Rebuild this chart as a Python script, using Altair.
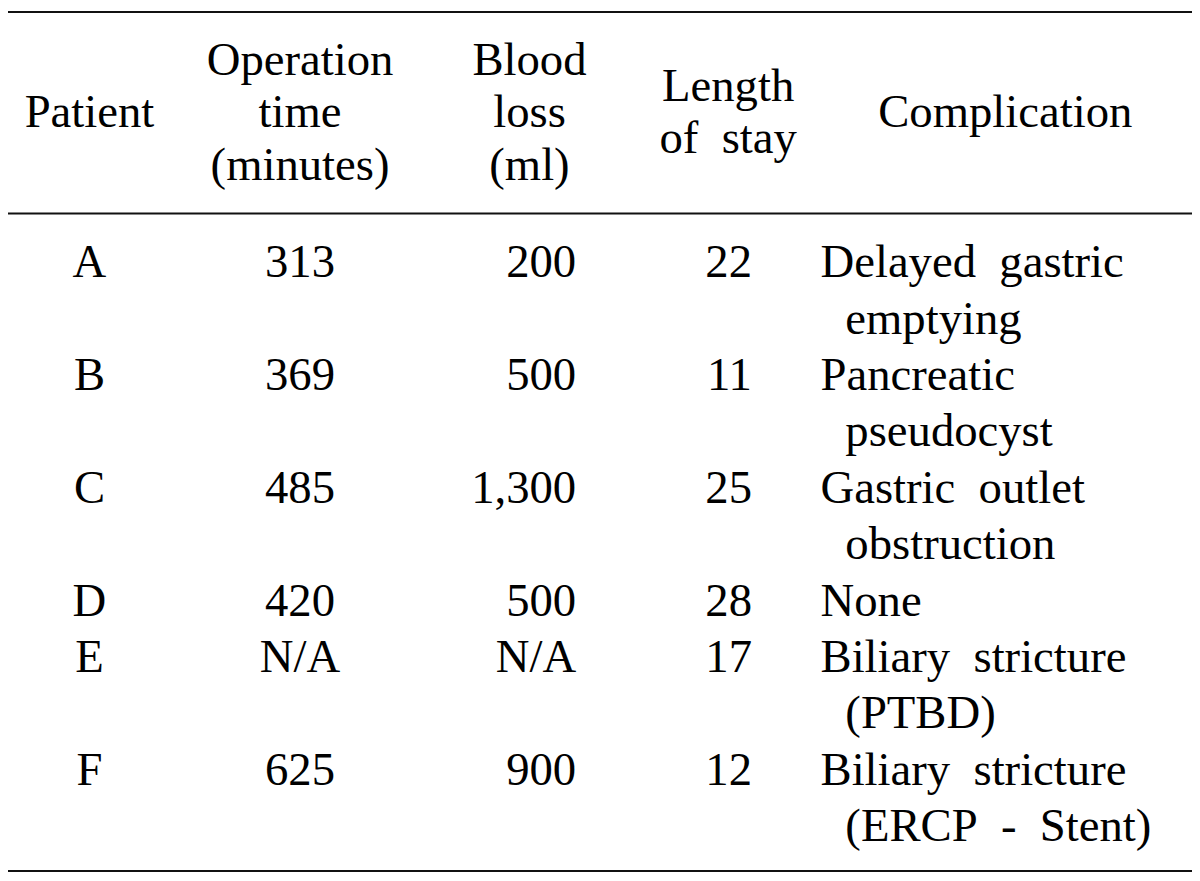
import altair as alt
import pandas as pd

# ---------------- data ----------------
patients = ["A", "B", "C", "D", "E", "F"]
operation_time = ["313", "369", "485", "420", "N/A", "625"]
blood_loss = ["200", "500", "1,300", "500", "N/A", "900"]
length_of_stay = ["22", "11", "25", "28", "17", "12"]
complication = [
    ["Delayed\u00a0\u00a0gastric", "emptying"],
    ["Pancreatic", "pseudocyst"],
    ["Gastric\u00a0\u00a0outlet", "obstruction"],
    ["None"],
    ["Biliary\u00a0\u00a0stricture", "(PTBD)"],
    ["Biliary\u00a0\u00a0stricture", "(ERCP\u00a0\u00a0-\u00a0\u00a0Stent)"],
]
header_patient = ["Patient"]
header_operation = ["Operation", "time", "(minutes)"]
header_blood = ["Blood", "loss", "(ml)"]
header_stay = ["Length", "of\u00a0\u00a0stay"]
header_complication = ["Complication"]

# ---------------- layout (not data) ----------------
W, H = 1192, 873
FONT = "Liberation Serif"
FS = 47
# slot order: patient ctr, op ctr, blood hdr ctr, blood right, stay hdr ctr,
# stay right, compl left, compl indent, compl hdr ctr
slot_px = [82, 294, 525, 572, 725, 749, 818, 843, 1004]
x_scale = alt.Scale(domain=list(range(len(slot_px))), range=slot_px)
head_y = alt.Scale(domain=[0, 2], range=[64, 170])
body_y = alt.Scale(domain=[0, 10], range=[268, 836])

# ---------------- tables ----------------
head_rows = []
for slot, lines in [(0, header_patient), (1, header_operation), (2, header_blood),
                    (4, header_stay), (8, header_complication)]:
    n = len(lines)
    for i, t in enumerate(lines):
        head_rows.append({"slot": slot, "line": 1 - (n - 1) / 2 + i, "text": t})
head_df = pd.DataFrame(head_rows)

center_rows, right_rows, left_rows = [], [], []
line = 0
for p, o, b, s, comp in zip(patients, operation_time, blood_loss, length_of_stay, complication):
    center_rows.append({"slot": 0, "line": line, "text": p})
    center_rows.append({"slot": 1, "line": line, "text": o})
    right_rows.append({"slot": 3, "line": line, "text": b})
    right_rows.append({"slot": 5, "line": line, "text": s})
    for i, t in enumerate(comp):
        left_rows.append({"slot": 6 if i == 0 else 7, "line": line + i, "text": t})
    line += len(comp)


def text_layer(df, align, yscale):
    return alt.Chart(pd.DataFrame(df)).mark_text(
        font=FONT, fontSize=FS, align=align, baseline="alphabetic", color="#000000"
    ).encode(
        x=alt.X("slot:Q", scale=x_scale, axis=None),
        y=alt.Y("line:Q", scale=yscale, axis=None),
        text="text:N",
    )


rules_df = pd.DataFrame({"pos": ["top", "header", "bottom"]})


def rule(i, ypx):
    return alt.Chart(rules_df.iloc[[i]]).mark_rule(color="#111111", strokeWidth=2).encode(
        x=alt.value(0), x2=alt.value(W), y=alt.value(ypx))


chart = alt.layer(
    rule(0, 1), rule(1, 204), rule(2, 866),
    text_layer(head_df, "center", head_y),
    text_layer(center_rows, "center", body_y),
    text_layer(right_rows, "right", body_y),
    text_layer(left_rows, "left", body_y),
).resolve_scale(y="independent").properties(
    width=W, height=H, padding=0, autosize=alt.AutoSizeParams(type="none"),
    background="white",
).configure_view(stroke=None)

chart.save("out.html", embed_options={"renderer": "svg", "actions": False})
